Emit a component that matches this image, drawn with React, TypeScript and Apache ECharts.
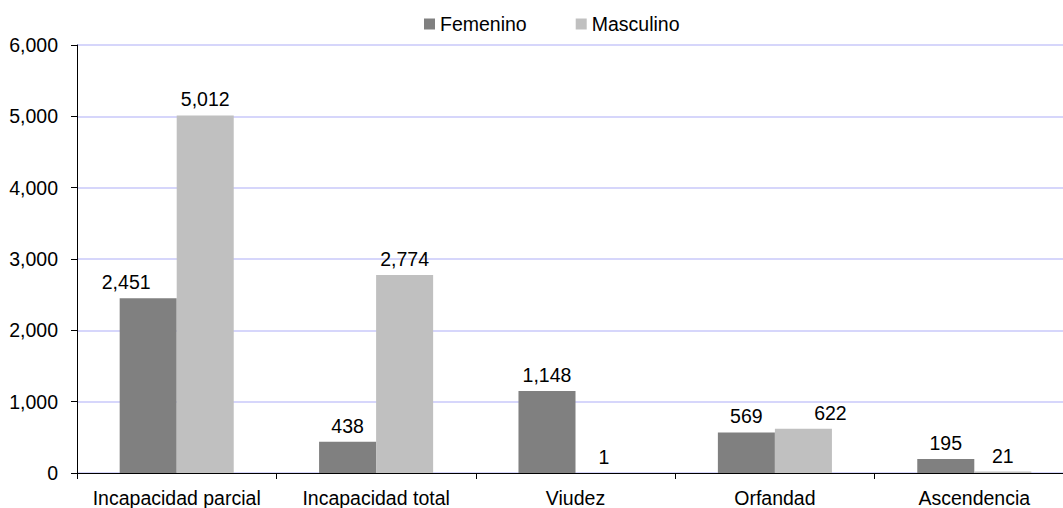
import React, { useEffect, useRef } from "react";
import * as echarts from "echarts";

const categories = ["Incapacidad parcial", "Incapacidad total", "Viudez", "Orfandad", "Ascendencia"];
const femenino = [2451, 438, 1148, 569, 195];
const masculino = [5012, 2774, 1, 622, 21];
const seriesNames = ["Femenino", "Masculino"];
const yTicks = { min: 0, max: 6000, interval: 1000 };

// horizontal nudges of individual value labels, as placed in the original
const femeninoLabelShift = [-22, 0, 0, 0, 0];
const masculinoLabelShift = [0, 0, 0, 27, 0];

const FONT = "'Liberation Sans', Arial, sans-serif";
const FS = 19.5;

const fmt = (v: number) => v.toLocaleString("en-US");

const withShift = (vals: number[], shifts: number[]) =>
  vals.map((v, i) => (shifts[i] ? { value: v, label: { offset: [shifts[i], 0] } } : v));

export default function App() {
  const ref = useRef<HTMLDivElement>(null);
  useEffect(() => {
    if (!ref.current) return;
    const chart = echarts.init(ref.current, undefined, { renderer: "svg" });
    const label = {
      show: true,
      position: "top",
      distance: 6,
      color: "#000",
      fontFamily: FONT,
      fontSize: FS,
      formatter: (p: any) => fmt(p.value),
    };
    chart.setOption({
      animation: false,
      textStyle: { fontFamily: FONT },
      legend: {
        left: 419,
        top: 9,
        itemWidth: 11,
        itemHeight: 11,
        itemGap: 49,
        icon: "rect",
        textStyle: { fontFamily: FONT, fontSize: FS, color: "#000" },
        data: seriesNames,
      },
      grid: { left: 77, top: 45, bottom: 34, right: 6, containLabel: false },
      xAxis: {
        type: "category",
        data: categories,
        axisLine: { lineStyle: { color: "#000", width: 1 } },
        axisTick: { show: true, length: 6, lineStyle: { color: "#000" } },
        axisLabel: { color: "#000", fontFamily: FONT, fontSize: FS, margin: 15, interval: 0 },
      },
      yAxis: {
        type: "value",
        min: yTicks.min,
        max: yTicks.max,
        interval: yTicks.interval,
        axisLine: { show: true, lineStyle: { color: "#000", width: 1 } },
        axisTick: { show: true, length: 6, lineStyle: { color: "#000" } },
        axisLabel: { color: "#000", fontFamily: FONT, fontSize: FS, margin: 19, formatter: (v: number) => fmt(v) },
        splitLine: { show: true, lineStyle: { color: "#c8c8fa", width: 1.5 } },
      },
      series: [
        {
          name: seriesNames[0],
          type: "bar",
          data: withShift(femenino, femeninoLabelShift),
          barGap: "0%",
          barCategoryGap: "42.8%",
          itemStyle: { color: "#808080" },
          label,
        },
        {
          name: seriesNames[1],
          type: "bar",
          data: withShift(masculino, masculinoLabelShift),
          barGap: "0%",
          barCategoryGap: "42.8%",
          itemStyle: { color: "#c0c0c0" },
          label,
        },
      ],
    });
    return () => chart.dispose();
  }, []);
  return (
    <div style={{ position: "absolute", left: 0, top: 0, width: 1063, height: 508, overflow: "hidden" }}>
      <div ref={ref} style={{ width: 1080, height: 508 }} />
    </div>
  );
}
